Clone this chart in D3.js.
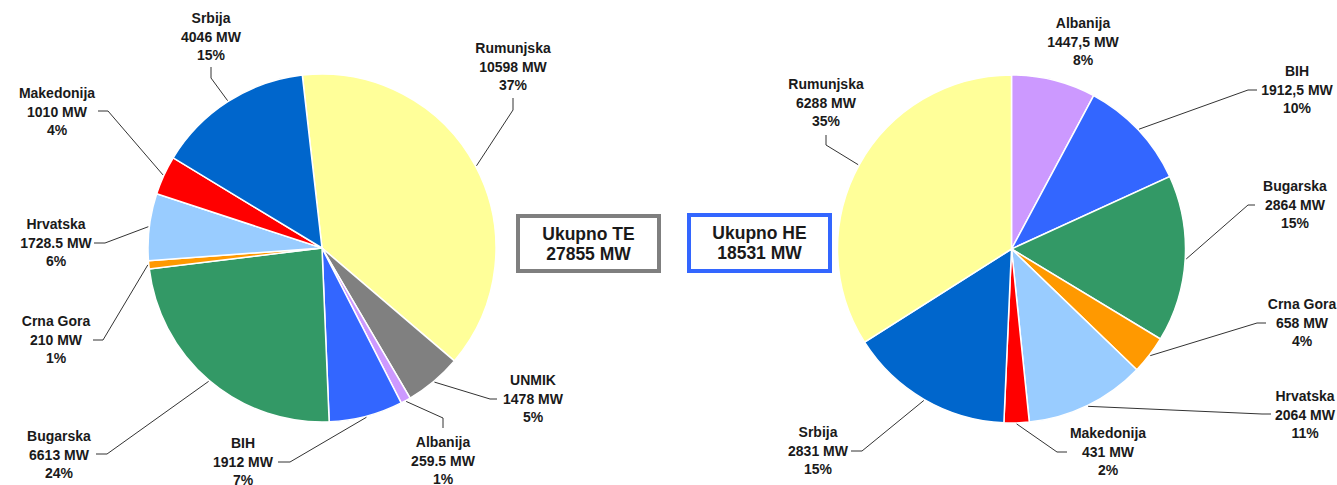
<!DOCTYPE html>
<html>
<head>
<meta charset="utf-8">
<script src="https://cdn.jsdelivr.net/npm/d3@7"></script>
<style>
  body { margin: 0; background: #fff; }
  text { font-family: "Liberation Sans", Arial, sans-serif; font-weight: bold; fill: #1a1a1a; }
</style>
</head>
<body>
<script>
// TE (thermal) capacity by country
var teNames = ['Rumunjska', 'UNMIK', 'Albanija', 'BIH', 'Bugarska', 'Crna Gora', 'Hrvatska', 'Makedonija', 'Srbija']
var teValues = [10598, 1478, 259.5, 1912, 6613, 210, 1728.5, 1010, 4046]
var tePercents = ['37%', '5%', '1%', '7%', '24%', '1%', '6%', '4%', '15%']
var teColors = ['#ffff99', '#808080', '#cc99ff', '#3366ff', '#339966', '#ff9900', '#99ccff', '#ff0000', '#0066cc']
var teTotal = 27855

// HE (hydro) capacity by country
var heNames = ['Albanija', 'BIH', 'Bugarska', 'Crna Gora', 'Hrvatska', 'Makedonija', 'Srbija', 'Rumunjska']
var heValues = [1447.5, 1912.5, 2864, 658, 2064, 431, 2831, 6288]
var hePercents = ['8%', '10%', '15%', '4%', '11%', '2%', '15%', '35%']
var heColors = ['#cc99ff', '#3366ff', '#339966', '#ff9900', '#99ccff', '#ff0000', '#0066cc', '#ffff99']
var heTotal = 18531

// label placement: text centre x, first row centre y, leader elbow points
var teLabels = {
  'Srbija':     { x: 211, y: 18,  lead: [[211, 67], [211, 78]] },
  'Makedonija': { x: 57,  y: 93,  lead: [[98, 111], [108, 111]] },
  'Rumunjska':  { x: 513, y: 48,  lead: [[513, 98], [513, 110]] },
  'Hrvatska':   { x: 56,  y: 224, lead: [[94, 243], [105, 243]] },
  'Crna Gora':  { x: 56,  y: 321, lead: [[93, 340], [103, 340]] },
  'Bugarska':   { x: 59,  y: 436, lead: [[96, 454], [107, 454]] },
  'BIH':        { x: 243, y: 443, lead: [[278, 462], [290, 462]] },
  'UNMIK':      { x: 533, y: 380, lead: [[497, 399], [490, 399]] },
  'Albanija':   { x: 443, y: 442, lead: [[443, 428], [443, 418]] }
}
var heLabels = {
  'Albanija':   { x: 1083, y: 23,  lead: null },
  'BIH':        { x: 1297, y: 71,  lead: [[1257, 90], [1248, 90]] },
  'Bugarska':   { x: 1295, y: 186, lead: [[1255, 205], [1248, 205]] },
  'Crna Gora':  { x: 1302, y: 304, lead: [[1266, 323], [1257, 323]] },
  'Hrvatska':   { x: 1305, y: 396, lead: [[1271, 414], [1262, 414]] },
  'Makedonija': { x: 1108, y: 433, lead: [[1067, 452], [1057, 452]] },
  'Srbija':     { x: 818,  y: 432, lead: [[851, 451], [862, 451]] },
  'Rumunjska':  { x: 826,  y: 84,  lead: [[826, 135], [826, 145]] }
}

var width = 1337, height = 485, radius = 174
var svg = d3.select('body').append('svg')
  .attr('width', width)
  .attr('height', height)

function drawPie(cx, cy, start, names, values, percents, colors, labels, fmt) {
  var rows = names.map(function(n, i) {
    return { name: n, value: values[i], pct: percents[i], color: colors[i] }
  })
  var pie = d3.pie().sort(null).value(function(d) { return d.value })
    .startAngle(start).endAngle(start + 2 * Math.PI)
  var arc = d3.arc().innerRadius(0).outerRadius(radius)
  var arcs = pie(rows)

  var g = svg.append('g').attr('transform', 'translate(' + cx + ',' + cy + ')')
  g.selectAll('path.slice')
    .data(arcs)
    .enter().append('path')
    .attr('class', 'slice')
    .attr('d', arc)
    .style('fill', function(d) { return d.data.color })
    .style('stroke', '#fff')
    .style('stroke-width', 1.5)

  var line = d3.line()
  arcs.forEach(function(d) {
    var lab = labels[d.data.name]
    if (lab.lead) {
      var mid = (d.startAngle + d.endAngle) / 2
      var end = [cx + (radius + 1) * Math.sin(mid), cy - (radius + 1) * Math.cos(mid)]
      svg.append('path')
        .attr('d', line(lab.lead.concat([end])))
        .style('fill', 'none')
        .style('stroke', '#333')
        .style('stroke-width', 1)
    }
    var t = svg.append('text')
      .attr('text-anchor', 'middle')
      .style('font-size', '14px')
    var lines = [d.data.name, fmt(d.data.value) + ' MW', d.data.pct]
    lines.forEach(function(s, i) {
      t.append('tspan')
        .attr('x', lab.x)
        .attr('y', lab.y + i * 18.7 + 5)
        .text(s)
    })
  })
}

drawPie(322, 248, -6.5 * Math.PI / 180, teNames, teValues, tePercents, teColors, teLabels,
  function(v) { return String(v) })
drawPie(1011.5, 249, 0, heNames, heValues, hePercents, heColors, heLabels,
  function(v) { return String(v).replace('.', ',') })

function totalBox(x, y, w, h, stroke, title, total) {
  svg.append('rect')
    .attr('x', x).attr('y', y)
    .attr('width', w).attr('height', h)
    .style('fill', '#fff')
    .style('stroke', stroke)
    .style('stroke-width', 4)
  var t = svg.append('text')
    .attr('text-anchor', 'middle')
    .style('font-size', '17.5px')
  t.append('tspan').attr('x', x + w / 2).attr('y', y + 24).text(title)
  t.append('tspan').attr('x', x + w / 2).attr('y', y + 44).text(total + ' MW')
}

totalBox(518, 216, 141, 55, '#7f7f7f', 'Ukupno TE', teTotal)
totalBox(689, 215, 141, 56, '#3366ff', 'Ukupno HE', heTotal)
</script>
</body>
</html>
